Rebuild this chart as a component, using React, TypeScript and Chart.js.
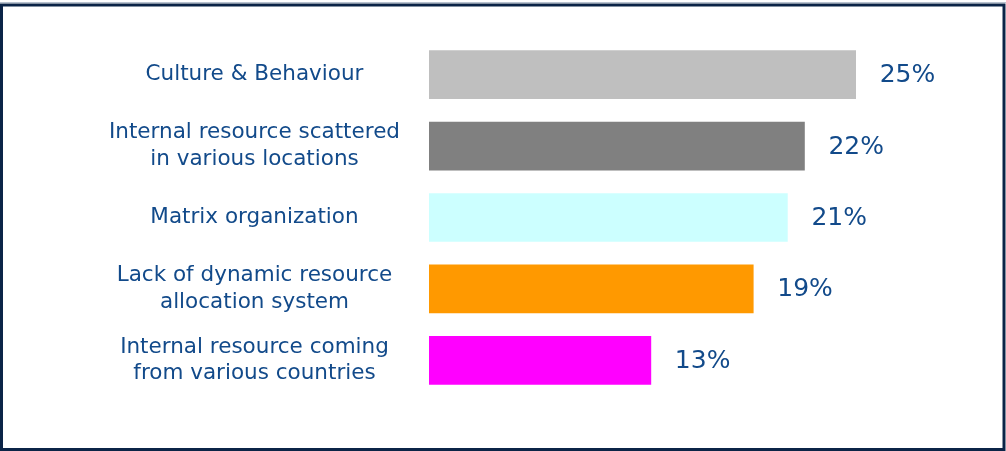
import React, { useEffect, useRef } from "react";
import { Chart, registerables } from "chart.js";

Chart.register(...registerables);

const categories: string[][] = [
  ["Culture & Behaviour"],
  ["Internal resource scattered", "in various locations"],
  ["Matrix organization"],
  ["Lack of dynamic resource", "allocation system"],
  ["Internal resource coming", "from various countries"],
];
const values: number[] = [25, 22, 21, 19, 13];
const barColors: string[] = ["#bfbfbf", "#808080", "#ccffff", "#ff9900", "#ff00ff"];
const textColor = "#124a8a";
const frameColor = "#0b2447";

const framePlugin = {
  id: "frame",
  beforeDraw(chart: any) {
    const { ctx, width, height } = chart;
    ctx.save();
    ctx.fillStyle = "#ffffff";
    ctx.fillRect(0, 0, width, height);
    ctx.fillStyle = "#b8c2cf";
    ctx.fillRect(0, 2, width, 1);
    ctx.strokeStyle = frameColor;
    ctx.lineWidth = 3;
    ctx.strokeRect(1.5, 5, width - 3.5, height - 6.5);
    ctx.restore();
  },
};

const valueLabelPlugin = {
  id: "valueLabels",
  afterDatasetsDraw(chart: any) {
    const { ctx } = chart;
    const meta = chart.getDatasetMeta(0);
    ctx.save();
    ctx.fillStyle = textColor;
    ctx.font = "25px 'DejaVu Sans'";
    ctx.textAlign = "left";
    ctx.textBaseline = "middle";
    meta.data.forEach((bar: any, i: number) => {
      ctx.fillText(values[i] + "%", bar.x + 24, bar.y + 1);
    });
    ctx.restore();
  },
};

export default function App() {
  const canvasRef = useRef<HTMLCanvasElement | null>(null);

  useEffect(() => {
    document.body.style.margin = "0";
    const canvas = canvasRef.current;
    if (!canvas) return;
    const chart = new Chart(canvas, {
      type: "bar",
      data: {
        labels: categories,
        datasets: [
          {
            data: values,
            backgroundColor: barColors,
            borderWidth: 0,
            barThickness: 48,
          },
        ],
      },
      options: {
        indexAxis: "y",
        animation: false,
        responsive: true,
        maintainAspectRatio: false,
        layout: { padding: { left: 107, right: 65, top: 39, bottom: 55 } },
        plugins: {
          legend: { display: false },
          tooltip: { enabled: false },
          title: { display: false },
        },
        scales: {
          x: {
            display: false,
            min: 0,
            max: 30,
          },
          y: {
            grid: { display: false, drawTicks: false },
            border: { display: false },
            afterFit(scale: any) {
              scale.width = 322;
              scale.paddingTop = 0;
              scale.paddingBottom = 0;
            },
            ticks: {
              crossAlign: "center",
              padding: 29,
              color: textColor,
              font: { family: "'DejaVu Sans'", size: 21.5, lineHeight: 1.24 },
            },
          },
        },
      },
      plugins: [framePlugin, valueLabelPlugin],
    });
    return () => chart.destroy();
  }, []);

  return (
    <div style={{ position: "relative", width: 1006, height: 451 }}>
      <canvas ref={canvasRef} />
    </div>
  );
}
